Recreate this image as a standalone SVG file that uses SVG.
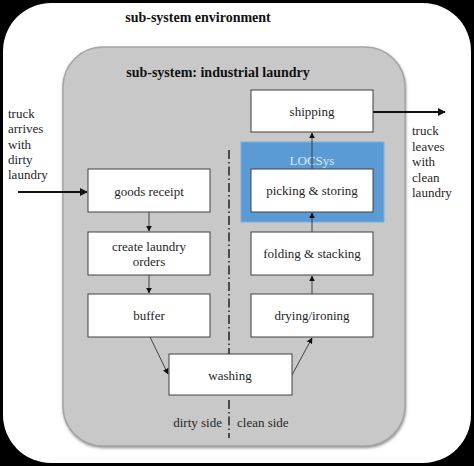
<svg xmlns="http://www.w3.org/2000/svg" width="474" height="466" viewBox="0 0 474 466">
<style>
.t{font-family:"Liberation Serif","Times New Roman",serif;font-size:13px;fill:#262626}
.c{text-anchor:middle}
.h{font-family:"Liberation Serif","Times New Roman",serif;font-size:14px;font-weight:bold;fill:#111}
.box{fill:#fff;stroke:#404040;stroke-width:1}
.ln{stroke:#333;stroke-width:0.9;fill:none}
.thick{stroke:#111;stroke-width:2;fill:none}
</style>
<defs>
<marker id="a" viewBox="0 0 10 10" refX="9" refY="5" markerWidth="6" markerHeight="6" orient="auto" markerUnits="userSpaceOnUse"><path d="M0,0 L10,5 L0,10 z" fill="#111"/></marker>
<marker id="b" viewBox="0 0 10 10" refX="9" refY="5" markerWidth="8" markerHeight="8" orient="auto" markerUnits="userSpaceOnUse"><path d="M0,0 L10,5 L0,10 z" fill="#111"/></marker>
<filter id="sh" x="-5%" y="-5%" width="110%" height="110%"><feGaussianBlur stdDeviation="1.5"/></filter>
</defs>
<rect x="0" y="0" width="474" height="466" fill="#000"/>
<rect x="3" y="3" width="468" height="460" rx="48" fill="#fff"/>
<text class="h c" x="198" y="22">sub-system environment</text>
<g id="subsystem">
<rect x="63" y="48" width="343" height="400" rx="40" fill="#8a8a8a" filter="url(#sh)"/>
<rect x="63" y="47" width="342" height="399" rx="40" fill="#c8c8c8" stroke="#a5a5a5" stroke-width="1.5"/>
<text class="h c" x="218" y="77">sub-system: industrial laundry</text>
</g>
<g id="divider">
<path d="M229 150 V354 M229 400 V438" stroke="#222" stroke-width="1.5" stroke-dasharray="9,3,1.5,3" fill="none"/>
<text class="t" x="222" y="427" text-anchor="end">dirty side</text>
<text class="t" x="237" y="427">clean side</text>
</g>
<g id="locsys">
<rect x="241" y="142" width="143" height="80" fill="#5b9bd5" stroke="#7aaee0" stroke-width="1"/>
<text class="t c" x="312" y="165" style="fill:#dce9f7">LOCSys</text>
</g>
<g id="in-label">
<text class="t" x="8" y="118">truck</text>
<text class="t" x="8" y="133">arrives</text>
<text class="t" x="8" y="149">with</text>
<text class="t" x="8" y="164">dirty</text>
<text class="t" x="8" y="179">laundry</text>
</g>
<g id="out-label">
<text class="t" x="412" y="135">truck</text>
<text class="t" x="412" y="151">leaves</text>
<text class="t" x="412" y="166">with</text>
<text class="t" x="412" y="182">clean</text>
<text class="t" x="412" y="197">laundry</text>
</g>
<g id="connectors">
<path class="thick" d="M18 192 H87" marker-end="url(#b)"/>
<path class="thick" d="M373 112 H445" marker-end="url(#b)"/>
<path class="ln" d="M149 212 V231" marker-end="url(#a)"/>
<path class="ln" d="M149 275 V293" marker-end="url(#a)"/>
<path class="ln" d="M150 337 L168 374" marker-end="url(#a)"/>
<path class="ln" d="M292 375 L312 338" marker-end="url(#a)"/>
<path class="ln" d="M312 294 V276" marker-end="url(#a)"/>
<path class="ln" d="M312 232 V213" marker-end="url(#a)"/>
<path class="ln" d="M312 169 V133" marker-end="url(#a)"/>
</g>
<g id="shipping"><rect class="box" x="251" y="90" width="122" height="42"/><text class="t c" x="312" y="116">shipping</text></g>
<g id="picking"><rect class="box" x="251" y="169" width="122" height="43"/><text class="t c" x="312" y="195">picking &amp; storing</text></g>
<g id="folding"><rect class="box" x="251" y="232" width="122" height="43"/><text class="t c" x="312" y="258">folding &amp; stacking</text></g>
<g id="drying"><rect class="box" x="251" y="294" width="122" height="43"/><text class="t c" x="312" y="320">drying/ironing</text></g>
<g id="goods-receipt"><rect class="box" x="88" y="169" width="122" height="43"/><text class="t c" x="149" y="196">goods receipt</text></g>
<g id="create-orders"><rect class="box" x="88" y="232" width="122" height="43"/><text class="t c" x="149" y="251">create laundry</text><text class="t c" x="149" y="266">orders</text></g>
<g id="buffer"><rect class="box" x="88" y="294" width="122" height="43"/><text class="t c" x="149" y="320">buffer</text></g>
<g id="washing"><rect class="box" x="169" y="354" width="123" height="41"/><text class="t c" x="230" y="380">washing</text></g>
</svg>
